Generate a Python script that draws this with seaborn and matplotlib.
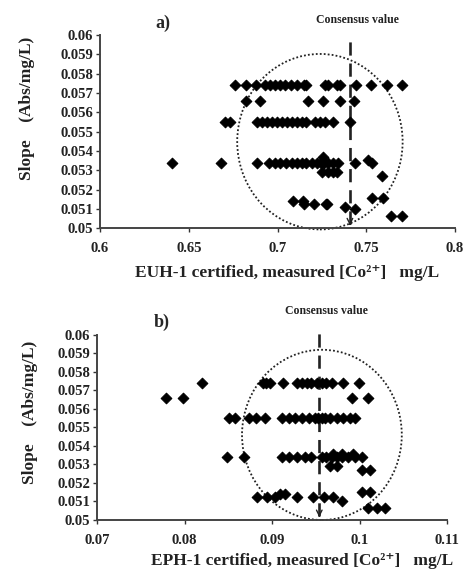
import matplotlib
matplotlib.use("Agg")
import matplotlib.pyplot as plt
from matplotlib.patches import Ellipse
from matplotlib.ticker import FuncFormatter
import seaborn as sns
import pandas as pd

# ---- data: panel a) EUH-1 ----
euh_x = [0.6762, 0.6821, 0.6879, 0.6930, 0.6958, 0.6986, 0.7014, 0.7042, 0.7074, 0.7108, 0.7149, 0.7160,
         0.7268, 0.7286, 0.7337, 0.7352, 0.7440, 0.7525, 0.7615, 0.7703,
         0.6823, 0.6901, 0.7174, 0.7258, 0.7352, 0.7433,
         0.6704, 0.6732, 0.6883, 0.6911, 0.6939, 0.6967, 0.6995, 0.7023, 0.7052, 0.7080, 0.7108, 0.7136,
         0.7161, 0.7211, 0.7240, 0.7268, 0.7314, 0.7408,
         0.6404, 0.6682, 0.6886, 0.6954, 0.6986, 0.7014, 0.7048, 0.7080, 0.7108, 0.7136, 0.7161, 0.7193,
         0.7221, 0.7243, 0.7262, 0.7286, 0.7315, 0.7343, 0.7437, 0.7512, 0.7534, 0.7258,
         0.7249, 0.7286, 0.7315, 0.7333, 0.7587,
         0.7089, 0.7145, 0.7151, 0.7207, 0.7273, 0.7280, 0.7380, 0.7437, 0.7531, 0.7596, 0.7639, 0.7703]
euh_y = [0.0574] * 20 + [0.0566] * 6 + [0.0555] * 18 + \
        [0.0534] * 19 + [0.05353, 0.0534, 0.05367] + [0.0529] * 4 + [0.0527] + \
        [0.05143, 0.05143, 0.05126, 0.05126, 0.05126, 0.05126, 0.05112, 0.05098, 0.05155, 0.05155, 0.05065, 0.05065]

# ---- data: panel b) EPH-1 ----
eph_x = [0.0820, 0.0890, 0.0893, 0.0898, 0.0913, 0.0928, 0.0934, 0.0940, 0.0945, 0.0951, 0.0957, 0.0962,
         0.0968, 0.0981, 0.0999,
         0.0779, 0.0798, 0.0991, 0.1010,
         0.0851, 0.0858, 0.0874, 0.0882, 0.0892, 0.0911, 0.0919, 0.0926, 0.0934, 0.0942, 0.0949, 0.0953,
         0.0957, 0.0961, 0.0966, 0.0974, 0.0981, 0.0989, 0.0995,
         0.0849, 0.0868, 0.0911, 0.0919, 0.0928, 0.0938, 0.0945, 0.0957, 0.0962, 0.0968, 0.0974, 0.0980,
         0.0987, 0.0995, 0.1003, 0.0970, 0.0980, 0.0993,
         0.0966, 0.0974, 0.1003, 0.1012, 0.1003, 0.1012,
         0.0883, 0.0894, 0.0903, 0.0909, 0.0915, 0.0928, 0.0947, 0.0959, 0.0970, 0.0980,
         0.1010, 0.1020, 0.1029]
eph_y = [0.0574] * 15 + [0.0566] * 4 + [0.0555] * 19 + [0.0534] * 15 + [0.05355] * 3 + \
        [0.0529] * 2 + [0.0527] * 2 + [0.0515] * 2 + \
        [0.05126, 0.05126, 0.05126, 0.0514, 0.0514, 0.05126, 0.05126, 0.05126, 0.05126, 0.0510] + \
        [0.05063] * 3

# ---- annotations ----
euh_consensus = 0.7408
eph_consensus = 0.0954
euh_circle = (0.7239, 0.05448, 0.0466, 0.00454)
eph_circle = (0.0957, 0.0546, 0.00913, 0.0046)

y_ticks = [0.05 + 0.001 * i for i in range(11)]
euh_xticks = [0.6, 0.65, 0.7, 0.75, 0.8]
eph_xticks = [0.07, 0.08, 0.09, 0.1, 0.11]

sns.set_style("ticks")
plt.rcParams['font.family'] = ['Liberation Serif', 'DejaVu Serif']
plt.rcParams['font.weight'] = 'bold'
plt.rcParams['axes.labelweight'] = 'bold'

fig = plt.figure(figsize=(4.66, 5.73), dpi=100)
ax1 = fig.add_axes([0.2146, 0.6016, 0.7618, 0.3373])
ax2 = fig.add_axes([0.2082, 0.0925, 0.7511, 0.3229])

fmt = FuncFormatter(lambda v, p: ('%.3f' % v).rstrip('0').rstrip('.'))


def panel(ax, xs, ys, xticks, xlim, consensus, dash_top, cons_y, circle, label, xlabel, ylab_pos, xlab_pos):
    df = pd.DataFrame({'x': xs, 'y': ys})
    sns.scatterplot(data=df, x='x', y='y', marker='D', color='black', edgecolor='black',
                    s=30, linewidth=0.7, ax=ax, zorder=3, clip_on=False)
    ax.set_xlim(*xlim)
    ax.set_ylim(0.05, 0.06)
    ax.set_xticks(xticks)
    ax.set_yticks(y_ticks)
    ax.xaxis.set_major_formatter(fmt)
    ax.yaxis.set_major_formatter(fmt)
    for t in ax.get_xticklabels() + ax.get_yticklabels():
        t.set_fontweight('bold')
    ax.tick_params(axis='both', labelsize=10.5, direction='out', length=3, width=1, colors='#333333',
                   labelcolor='#222222')
    ax.tick_params(axis='x', pad=7)
    ax.tick_params(axis='y', pad=2)
    for s in ['top', 'right']:
        ax.spines[s].set_visible(False)
    for s in ['left', 'bottom']:
        ax.spines[s].set_color('#444444')
        ax.spines[s].set_linewidth(1.4)
    cx, cy, rx, ry = circle
    ax.add_patch(Ellipse((cx, cy), 2 * rx, 2 * ry, fill=False, linestyle=(0, (1, 1.2)),
                         linewidth=1.3, edgecolor='#222222', zorder=2, clip_on=False))
    ax.plot([consensus, consensus], [0.0502, dash_top], color='#222222', linestyle=(0, (5, 3)),
            linewidth=1.9, zorder=2, clip_on=False)
    ax.annotate('', xy=(consensus, 0.0500), xytext=(consensus, 0.0504),
                arrowprops=dict(arrowstyle='->', lw=1.0, color='#222222'), annotation_clip=False)
    ax.text(consensus + (xlim[1] - xlim[0]) * 0.02, cons_y, 'Consensus value', ha='center', va='center',
            fontsize=8.5, fontweight='bold', color='#222222')
    ax.text(label[1], label[2], label[0], ha='center', va='center', fontsize=13, fontweight='bold')
    ax.set_xlabel(xlabel, fontsize=12.5, fontweight='bold', color='#222222')
    ax.set_ylabel('Slope    (Abs/mg/L)', fontsize=12.5, fontweight='bold', color='#222222')
    ax.yaxis.set_label_coords(*ylab_pos)
    ax.xaxis.set_label_coords(*xlab_pos)


panel(ax1, euh_x, euh_y, euh_xticks, (0.6, 0.8), euh_consensus, 0.0599, 0.0608, euh_circle,
      ('a)', 0.6355, 0.0606),
      'EUH-1 certified, measured [Co²⁺]   mg/L', (-0.183, 0.62), (0.527, -0.19))
panel(ax2, eph_x, eph_y, eph_xticks, (0.07, 0.11), eph_consensus, 0.0603, 0.0613, eph_circle,
      ('b)', 0.0774, 0.0607),
      'EPH-1 certified, measured [Co²⁺]   mg/L', (-0.168, 0.58), (0.586, -0.18))

fig.savefig('out.png', dpi=100, facecolor='white')
